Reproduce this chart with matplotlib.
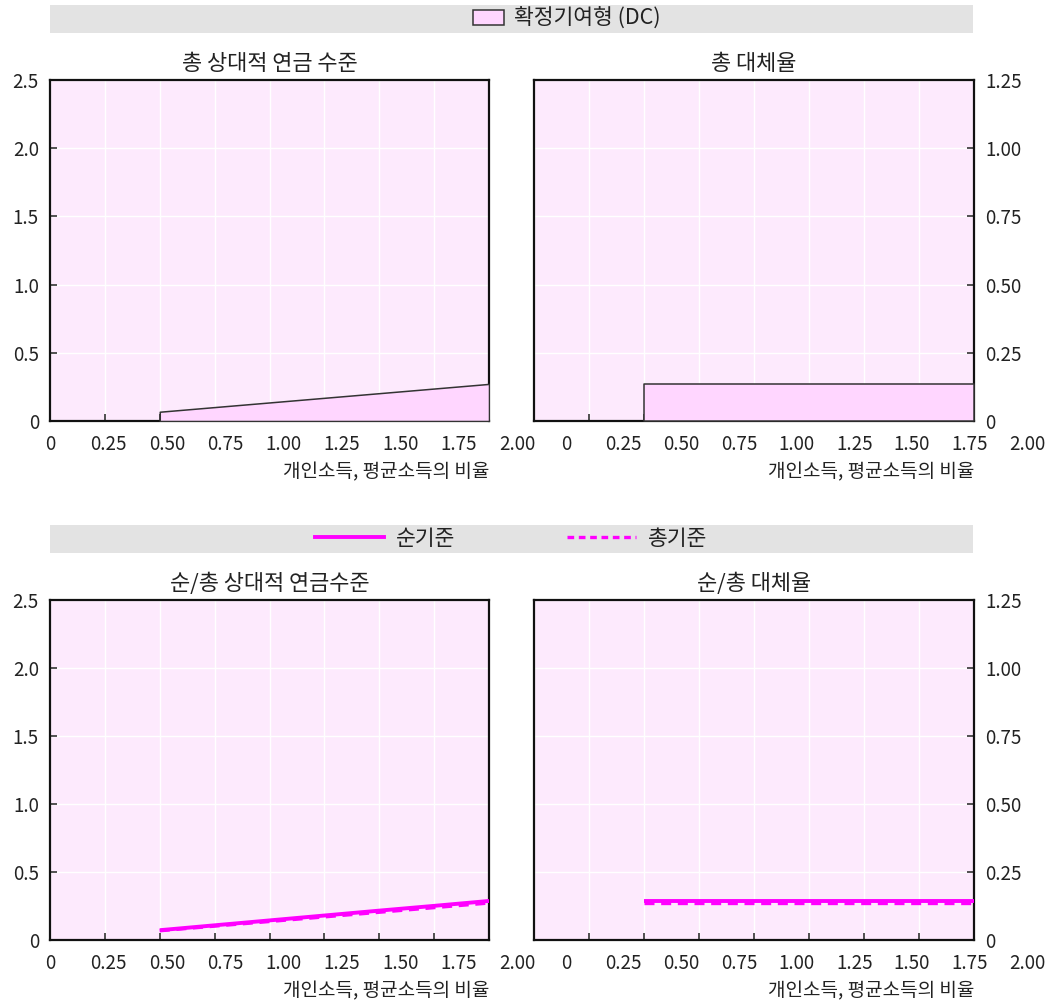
import matplotlib
matplotlib.use('Agg')
import matplotlib.pyplot as plt
from matplotlib.patches import Patch
from matplotlib.lines import Line2D

plt.rcParams['font.family'] = ['Noto Sans CJK KR', 'DejaVu Sans']

# earnings as multiple of average earnings
earn = [0.5, 0.75, 1.0, 1.25, 1.5, 1.75, 2.0]
# gross / net relative pension level
gross_level = [0.068, 0.102, 0.136, 0.170, 0.204, 0.238, 0.272]
net_level = [0.072, 0.108, 0.144, 0.180, 0.216, 0.251, 0.287]
# gross / net replacement rate
gross_rr = [0.136, 0.136, 0.136, 0.136, 0.136, 0.136, 0.136]
net_rr = [0.144, 0.144, 0.144, 0.144, 0.144, 0.144, 0.144]

xticks = [0, 0.25, 0.5, 0.75, 1.0, 1.25, 1.5, 1.75, 2.0]
xlabels = ['0', '0.25', '0.50', '0.75', '1.00', '1.25', '1.50', '1.75', '2.00']
yticks_l = [0, 0.5, 1.0, 1.5, 2.0, 2.5]
ylabels_l = ['0', '0.5', '1.0', '1.5', '2.0', '2.5']
yticks_r = [0, 0.25, 0.5, 0.75, 1.0, 1.25]
ylabels_r = ['0', '0.25', '0.50', '0.75', '1.00', '1.25']

titles = ['총 상대적 연금 수준', '총 대체율', '순/총 상대적 연금수준', '순/총 대체율']
xlab_text = '개인소득, 평균소득의 비율'
dc_label = '확정기여형 (DC)'
net_label = '순기준'
gross_label = '총기준'

BG = '#FDEAFD'
FILL = '#FFD6FF'
MAG = '#FF00FF'
BAND = '#E3E3E3'
TXT = '#222222'

W, H = 1055, 1007


def rect(x0, y0, x1, y1):
    # pixel box (top-left origin) -> figure fraction
    return [x0 / W, 1 - y1 / H, (x1 - x0) / W, (y1 - y0) / H]


def setup(ax, title, yticks, ylabels, side, lab_start, lab_step):
    ax.set_facecolor(BG)
    ax.set_xlim(0, 2.0)
    ax.set_ylim(yticks[0], yticks[-1])
    ax.set_xticks(xticks)
    ax.set_xticklabels([])
    ax.set_yticks(yticks)
    ax.set_yticklabels(ylabels)
    if side == 'right':
        ax.yaxis.tick_right()
    ax.grid(True, color='white', lw=1.0)
    ax.set_axisbelow(True)
    ax.tick_params(direction='in', length=5, width=1.2, color='#333333',
                   labelsize=13.5, labelcolor=TXT, pad=8)
    for sp in ax.spines.values():
        sp.set_linewidth(1.6)
        sp.set_color('#111111')
    ax.set_title(title, fontsize=15.8, pad=7, color=TXT)
    # x labels in the source sit a bit wider apart than the ticks
    for i, lab in enumerate(xlabels):
        ax.text(lab_start + i * lab_step, -0.068, lab, transform=ax.transAxes,
                ha='center', va='center', fontsize=13.5, color=TXT, clip_on=False)
    ax.text(1.0, -0.148, xlab_text, transform=ax.transAxes,
            ha='right', va='center', fontsize=13.7, color=TXT)


fig = plt.figure(figsize=(W / 100, H / 100), dpi=100)

ax1 = fig.add_axes(rect(50, 80, 489, 421))
ax2 = fig.add_axes(rect(534, 80, 974, 421))
ax3 = fig.add_axes(rect(50, 600, 489, 940))
ax4 = fig.add_axes(rect(534, 600, 974, 940))

setup(ax1, titles[0], yticks_l, ylabels_l, 'left', 0.0, 0.133)
setup(ax2, titles[1], yticks_r, ylabels_r, 'right', 0.073, 0.131)
setup(ax3, titles[2], yticks_l, ylabels_l, 'left', 0.0, 0.133)
setup(ax4, titles[3], yticks_r, ylabels_r, 'right', 0.073, 0.131)

ax1.fill_between(earn, 0, gross_level, facecolor=FILL, edgecolor='#333333', lw=1.1, zorder=3)
ax2.fill_between(earn, 0, gross_rr, facecolor=FILL, edgecolor='#333333', lw=1.1, zorder=3)

ax3.plot(earn, gross_level, color=MAG, lw=2.4, dashes=(3, 2), zorder=3)
ax3.plot(earn, net_level, color=MAG, lw=2.8, zorder=4, solid_capstyle='butt')
ax4.plot(earn, gross_rr, color=MAG, lw=2.4, dashes=(3, 2), zorder=3)
ax4.plot(earn, net_rr, color=MAG, lw=2.8, zorder=4, solid_capstyle='butt')

# grey legend bands
band1 = fig.add_axes(rect(50, 5, 973, 33))
band2 = fig.add_axes(rect(50, 525, 973, 553))
for b in (band1, band2):
    b.set_facecolor(BAND)
    b.set_xticks([])
    b.set_yticks([])
    for sp in b.spines.values():
        sp.set_visible(False)

band1.legend(handles=[Patch(facecolor=FILL, edgecolor='#333333', lw=1.1, label=dc_label)],
             loc='center', bbox_to_anchor=(0.56, 0.5), frameon=False,
             fontsize=15.5, handlelength=1.4, handleheight=0.7, handletextpad=0.47,
             labelcolor=TXT)
band2.legend(handles=[Line2D([], [], color=MAG, lw=2.8, label=net_label),
                      Line2D([], [], color=MAG, lw=2.4, dashes=(2, 1.4), label=gross_label)],
             loc='center', bbox_to_anchor=(0.5, 0.5), frameon=False, ncol=2,
             fontsize=15.5, handlelength=3.2, handletextpad=0.56, columnspacing=5.2,
             labelcolor=TXT)

fig.savefig('out.png', dpi=100)
